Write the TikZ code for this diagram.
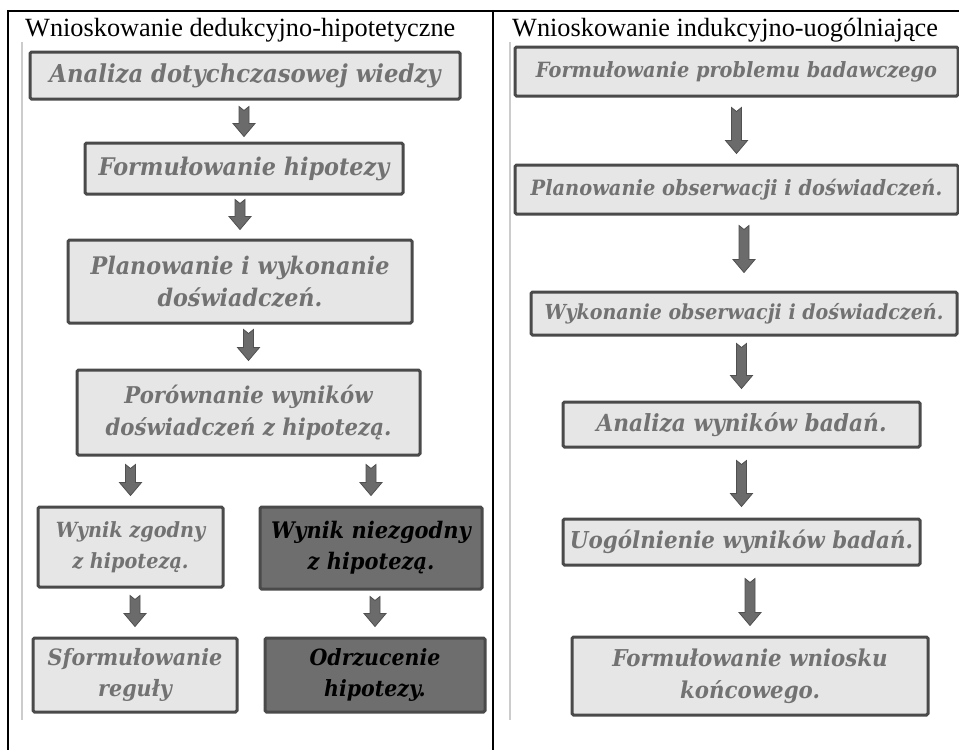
\documentclass[tikz,border=0pt]{standalone}
\usepackage{fontspec}
\setmainfont{Liberation Serif}
\newfontfamily\boxfont[FakeStretch=0.92]{DejaVu Serif}
\usetikzlibrary{calc}

\definecolor{boxfill}{HTML}{E6E6E6}
\definecolor{boxedge}{HTML}{4A4A4A}
\definecolor{boxtext}{HTML}{727272}
\definecolor{darkfill}{HTML}{6E6E6E}
\definecolor{arrowfill}{HTML}{6B6B6B}
\definecolor{faint}{HTML}{CCCCCC}

% block arrow with notched tail, at the x of the target point
\newcommand{\flowarrow}[2]{%
  \filldraw[flow] let \p1=(#1), \p2=(#2) in
    (\x2-5pt,\y1) -- (\x2,\y1-4pt) -- (\x2+5pt,\y1) -- (\x2+5pt,\y2+13pt)
    -- (\x2+11pt,\y2+13pt) -- (\x2,\y2) -- (\x2-11pt,\y2+13pt)
    -- (\x2-5pt,\y2+13pt) -- cycle;}

\tikzset{
  lightbox/.style={draw=boxedge, line width=3pt, fill=boxfill, rounded corners=1.5pt,
    text=boxtext, align=center, inner sep=0pt},
  darkbox/.style={lightbox, fill=darkfill, text=black},
  txt/.style 2 args={font=\boxfont\bfseries\itshape\fontsize{#1}{#2}\selectfont},
  flow/.style={fill=arrowfill, draw=arrowfill!75!black, line width=0.8pt},
  head/.style={anchor=base west, font=\fontsize{26.3}{26}\selectfont, inner sep=0pt}
}

\begin{document}
\begin{tikzpicture}[x=1pt,y=-1pt]
\useasboundingbox (0,0) rectangle (959,750);

% table
\draw[line width=2pt] (8,750) -- (8,11) -- (959,11);
\draw[line width=2pt] (493,11) -- (493,750);
\draw[faint, line width=2pt] (22,42) -- (22,720);
\draw[faint, line width=2pt] (510,42) -- (510,720);

\node[head] (hl) at (25,36) {Wnioskowanie dedukcyjno-hipotetyczne};
\node[head] (hr) at (512,36) {Wnioskowanie indukcyjno-uogólniające};

% left column
\node[lightbox, txt={24.7}{32}, minimum width=430pt, minimum height=47pt] (ana) at (245,75.5) {Analiza dotychczasowej wiedzy};
\node[lightbox, txt={24.3}{32}, minimum width=318pt, minimum height=51pt] (hip) at (244,168.5) {Formułowanie hipotezy};
\node[lightbox, txt={24.2}{32}, minimum width=344pt, minimum height=83pt] (plan) at (240,281.5) {Planowanie i wykonanie\\doświadczeń.};
\node[lightbox, txt={23.1}{32}, minimum width=343pt, minimum height=85pt] (por) at (248.5,412.5) {Porównanie wyników\\doświadczeń z hipotezą.};
\node[lightbox, txt={20.9}{31}, minimum width=185pt, minimum height=80pt] (zg) at (130.5,547) {Wynik zgodny\\z hipotezą.};
\node[darkbox, txt={22.8}{31}, minimum width=222pt, minimum height=82pt] (nzg) at (371,548) {Wynik niezgodny\\z hipotezą.};
\node[lightbox, txt={22.5}{31}, minimum width=204pt, minimum height=74pt] (reg) at (135,675) {Sformułowanie\\reguły};
\node[darkbox, txt={22.3}{31}, minimum width=220pt, minimum height=74pt] (odrz) at (375,675) {Odrzucenie\\hipotezy.};

\flowarrow{[yshift=-6pt]ana.south}{[yshift=5pt]hip.north}
\flowarrow{[yshift=-4pt]hip.south}{[yshift=9pt]plan.north}
\flowarrow{[yshift=-5pt]plan.south}{[yshift=8pt]por.north}
\flowarrow{[yshift=-8pt]por.south}{[yshift=10pt]zg.north}
\flowarrow{[yshift=-8pt]por.south}{[yshift=10pt]nzg.north}
\flowarrow{[yshift=-7pt]zg.south}{[yshift=10pt]reg.north}
\flowarrow{[yshift=-6pt]nzg.south}{[yshift=10pt]odrz.north}

% right column
\node[lightbox, txt={21}{30}, minimum width=443pt, minimum height=49pt] (prob) at (736.5,71.5) {Formułowanie problemu badawczego};
\node[lightbox, txt={21.1}{30}, minimum width=443pt, minimum height=49pt] (obs) at (736.5,189.5) {Planowanie obserwacji i doświadczeń.};
\node[lightbox, txt={20.7}{30}, minimum width=426pt, minimum height=43pt] (wyk) at (744,313.5) {Wykonanie obserwacji i doświadczeń.};
\node[lightbox, txt={23.6}{30}, minimum width=357pt, minimum height=45pt] (anw) at (741.5,424.5) {Analiza wyników badań.};
\node[lightbox, txt={23.3}{30}, minimum width=357pt, minimum height=46pt] (uog) at (741.5,542) {Uogólnienie wyników badań.};
\node[lightbox, txt={23.2}{32}, minimum width=356pt, minimum height=78pt] (wn) at (750,676) {Formułowanie wniosku\\końcowego.};

\flowarrow{[yshift=-10pt]prob.south}{[yshift=10pt]obs.north}
\flowarrow{[yshift=-10pt]obs.south}{[yshift=18pt]wyk.north}
\flowarrow{[yshift=-7pt]wyk.south}{[yshift=12pt]anw.north}
\flowarrow{[yshift=-12pt]anw.south}{[yshift=11pt]uog.north}
\flowarrow{[yshift=-12pt]uog.south}{[yshift=10pt]wn.north}
\end{tikzpicture}
\end{document}
